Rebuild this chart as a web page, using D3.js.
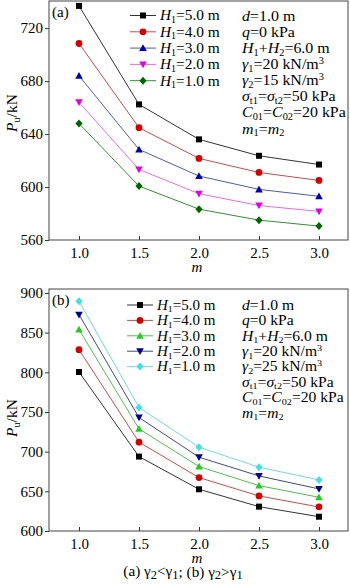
<!DOCTYPE html>
<html><head><meta charset="utf-8">
<script src="https://cdn.jsdelivr.net/npm/d3@7"></script>
<style>body{margin:0;background:#fff}svg{display:block;font-family:"Liberation Serif","Times New Roman",serif}</style>
</head><body><svg id="c" width="350" height="584"></svg>
<script>
const mVals = [1.0, 1.5, 2.0, 2.5, 3.0];
const xTicks = [1.0, 1.5, 2.0, 2.5, 3.0];
const seriesNames = ["5.0", "4.0", "3.0", "2.0", "1.0"];
// panel (a) gamma2 < gamma1
const aH5 = [736.8, 662.4, 636.0, 623.6, 617.0];
const aH4 = [708.4, 644.8, 621.6, 611.0, 605.0];
const aH3 = [684.0, 628.4, 608.3, 598.2, 593.0];
const aH2 = [664.0, 613.3, 595.0, 586.0, 581.6];
const aH1 = [648.0, 600.7, 583.3, 575.0, 570.5];
const aTicks = [560, 600, 640, 680, 720];
// panel (b) gamma2 > gamma1
const bH5 = [800.4, 693.8, 652.6, 630.7, 618.0];
const bH4 = [828.5, 712.0, 667.3, 644.2, 630.3];
const bH3 = [853.8, 728.8, 681.2, 657.2, 642.5];
const bH2 = [872.7, 743.0, 693.0, 669.4, 653.0];
const bH1 = [889.5, 755.7, 705.7, 680.4, 664.4];
const bTicks = [600, 650, 700, 750, 800, 850, 900];

const svg = d3.select("#c");

function rich(g, x, y, segs, size, anchor, subScale, sx) {
  const ss = subScale || 0.65;
  const t = g.append("text").attr("x", 0).attr("y", 0).attr("font-size", size).attr("fill", "#000")
    .attr("font-family", "Liberation Serif")
    .attr("transform", `translate(${x},${y}) scale(${sx || 1},1)`);
  if (anchor) t.attr("text-anchor", anchor);
  segs.forEach(s => {
    const sp = t.append("tspan").text(s.t);
    if (s.i) sp.attr("font-style", "italic");
    if (s.sub) { sp.attr("font-size", size * ss).attr("dy", size * 0.18); }
    if (s.sup) { sp.attr("font-size", size * ss).attr("dy", -size * 0.36); }
    if (s.back) sp.attr("dy", s.back * size);
  });
  return t;
}

function marker(g, type, x, y, color) {
  if (type === "square") g.append("rect").attr("x", x - 3).attr("y", y - 3).attr("width", 6).attr("height", 6).attr("fill", color);
  else if (type === "circle") g.append("circle").attr("cx", x).attr("cy", y).attr("r", 3.4).attr("fill", color);
  else if (type === "up") g.append("path").attr("d", `M${x},${y-3.8}L${x+3.8},${y+3}L${x-3.8},${y+3}Z`).attr("fill", color);
  else if (type === "down") g.append("path").attr("d", `M${x},${y+3.8}L${x+3.8},${y-3}L${x-3.8},${y-3}Z`).attr("fill", color);
  else if (type === "diamond") g.append("path").attr("d", `M${x},${y-4}L${x+3.6},${y}L${x},${y+4}L${x-3.6},${y}Z`).attr("fill", color);
}

function panel(cfg) {
  const g = svg.append("g");
  const x = d3.scaleLinear().domain([0.75, 3.25]).range([49, 349]);
  const y = d3.scaleLinear().domain(cfg.ydom).range([cfg.bottom, cfg.top]);
  const ya = g.append("g").attr("transform", "translate(49,0)")
    .call(d3.axisLeft(y).tickValues(cfg.ticks).tickSize(4).tickPadding(2).tickFormat(d3.format("d")));
  ya.select(".domain").remove();
  ya.selectAll("text").attr("font-size", 15).attr("font-family", "Liberation Serif").attr("fill", "#000");
  ya.selectAll("line").attr("stroke", "#333");
  const xa = g.append("g").attr("transform", `translate(0,${cfg.bottom})`)
    .call(d3.axisBottom(x).tickValues(xTicks).tickSize(-4).tickPadding(7).tickFormat(d3.format(".1f")));
  xa.select(".domain").remove();
  xa.selectAll("text").attr("font-size", 15).attr("font-family", "Liberation Serif").attr("fill", "#000");
  xa.selectAll("line").attr("stroke", "#333");
  g.append("rect").attr("x", 49).attr("y", cfg.top).attr("width", 299).attr("height", cfg.bottom - cfg.top)
    .attr("fill", "none").attr("stroke", "#444").attr("stroke-width", 1);
  const line = d3.line().x((d, i) => x(mVals[i])).y(d => y(d));
  cfg.series.forEach(s => {
    g.append("path").datum(s.v).attr("d", line).attr("fill", "none").attr("stroke", s.lc).attr("stroke-width", 1);
    s.v.forEach((v, i) => marker(g, s.m, x(mVals[i]), y(v), s.c));
  });
  cfg.series.forEach((s, i) => {
    const yy = cfg.legY + i * cfg.legDy;
    g.append("line").attr("x1", cfg.legX).attr("x2", cfg.legX + 26).attr("y1", yy).attr("y2", yy).attr("stroke", s.lc).attr("stroke-width", 1);
    marker(g, s.m, cfg.legX + 13, yy, s.c);
    rich(g, cfg.legX + 30, yy + 4.8, [{t: "H", i: 1}, {t: "1", sub: 1}, {t: "=" + seriesNames[i] + " m", back: -0.18}], cfg.fs, null, 0.65, 1.06);
  });
  cfg.params.forEach((p, i) => rich(g, 242, cfg.parY + i * cfg.parDy, p, cfg.fs, null, 0.65, 1.1));
  rich(g, 52, cfg.top + 16, [{t: cfg.tag}], 15);
  rich(g, 197, cfg.bottom + 32, [{t: "m", i: 1}], 15, "middle");
  const yl = rich(g, 0, 0, [{t: "P", i: 1}, {t: "u", sub: 1}, {t: "/kN", back: -0.18}], 15.5, "middle");
  yl.attr("transform", `translate(17,${cfg.ylabY}) rotate(-90)`);
}

const paramsA = [
  [{t: "d", i: 1}, {t: "=1.0 m"}],
  [{t: "q", i: 1}, {t: "=0 kPa"}],
  [{t: "H", i: 1}, {t: "1", sub: 1}, {t: "+", back: -0.18}, {t: "H", i: 1}, {t: "2", sub: 1}, {t: "=6.0 m", back: -0.18}],
  [{t: "γ", i: 1}, {t: "1", sub: 1}, {t: "=20 kN/m", back: -0.18}, {t: "3", sup: 1}],
  [{t: "γ", i: 1}, {t: "2", sub: 1}, {t: "=15 kN/m", back: -0.18}, {t: "3", sup: 1}],
  [{t: "σ", i: 1}, {t: "t1", sub: 1}, {t: "=", back: -0.18}, {t: "σ", i: 1}, {t: "t2", sub: 1}, {t: "=50 kPa", back: -0.18}],
  [{t: "C", i: 1}, {t: "01", sub: 1}, {t: "=", back: -0.18}, {t: "C", i: 1}, {t: "02", sub: 1}, {t: "=20 kPa", back: -0.18}],
  [{t: "m", i: 1}, {t: "1", sub: 1}, {t: "=", back: -0.18}, {t: "m", i: 1}, {t: "2", sub: 1}]
];
const paramsB = paramsA.map((p, i) => i === 4 ? [{t: "γ", i: 1}, {t: "2", sub: 1}, {t: "=25 kN/m", back: -0.18}, {t: "3", sup: 1}] : p);

panel({
  top: 1, bottom: 240, ydom: [560, 740.5], ticks: aTicks, tag: "(a)", fs: 14.5,
  legX: 130, legY: 15.5, legDy: 16.3, parY: 20.8, parDy: 16.1, ylabY: 113,
  params: paramsA,
  series: [
    {v: aH5, m: "square", c: "#000000", lc: "#333333"},
    {v: aH4, m: "circle", c: "#d40000", lc: "#c0504d"},
    {v: aH3, m: "up", c: "#0000b0", lc: "#4f5f9f"},
    {v: aH2, m: "down", c: "#e000e0", lc: "#e070e0"},
    {v: aH1, m: "diamond", c: "#006400", lc: "#3a8a3a"}
  ]
});
panel({
  top: 289, bottom: 531, ydom: [600, 905], ticks: bTicks, tag: "(b)", fs: 14.2,
  legX: 127, legY: 305, legDy: 15.4, parY: 309.8, parDy: 15.4, ylabY: 418,
  params: paramsB,
  series: [
    {v: bH5, m: "square", c: "#000000", lc: "#333333"},
    {v: bH4, m: "circle", c: "#d40000", lc: "#c0504d"},
    {v: bH3, m: "up", c: "#22cc22", lc: "#50c050"},
    {v: bH2, m: "down", c: "#000090", lc: "#404a80"},
    {v: bH1, m: "diamond", c: "#40e0e8", lc: "#70d8e0"}
  ]
});
rich(svg, 183, 576, [{t: "(a) "}, {t: "γ"}, {t: "2", sub: 1}, {t: "<", back: -0.16}, {t: "γ"}, {t: "1", sub: 1}, {t: "; (b) ", back: -0.16}, {t: "γ"}, {t: "2", sub: 1}, {t: ">", back: -0.16}, {t: "γ"}, {t: "1", sub: 1}], 14.5, "middle", 0.82, 1.05);
</script></body></html>
